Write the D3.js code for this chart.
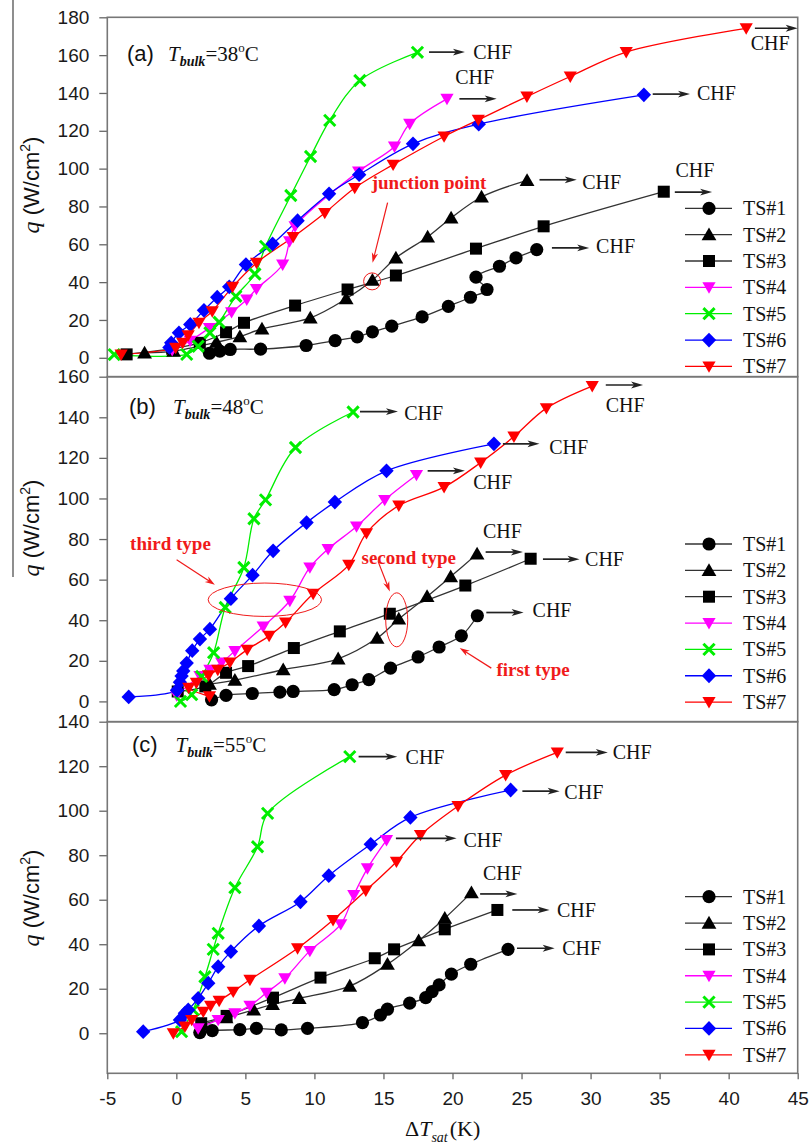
<!DOCTYPE html>
<html>
<head>
<meta charset="utf-8">
<script src="https://cdn.jsdelivr.net/npm/d3@7"></script>
<style>
  body { margin: 0; background: #fff; }
  svg { display: block; }
</style>
</head>
<body>
<svg id="chart" width="811" height="1148"></svg>
<script>
// ---------------- data ----------------
const seriesNames = ["TS#1", "TS#2", "TS#3", "TS#4", "TS#5", "TS#6", "TS#7"];
const xTicks = [-5, 0, 5, 10, 15, 20, 25, 30, 35, 40, 45];
const yTicks38 = [0, 20, 40, 60, 80, 100, 120, 140, 160, 180];
const yTicks48 = [0, 20, 40, 60, 80, 100, 120, 140, 160];
const yTicks55 = [0, 20, 40, 60, 80, 100, 120, 140];

// [ΔTsat (K), q (W/cm²)] — T_bulk = 38 °C
const ts1_38 = [[2.4,2.4],[3.15,3.5],[3.9,4.4],[6.1,4.6],[9.4,6.5],[11.5,9.1],[13.1,11.1],[14.2,13.7],[15.6,16.7],[17.8,21.6],[19.7,27.2],[21.3,32],[22.5,36.1],[21.7,42.6],[23.4,48.4],[24.6,52.8],[26.1,57.2]];
const ts2_38 = [[-2.3,2.6],[-0.2,3.5],[2.9,8.2],[4.6,11.2],[6.2,15.3],[9.7,21.1],[12.3,31.2],[14.2,41],[15.9,52.8],[18.2,63.9],[19.9,73.9],[22.1,85],[25.4,93.8]];
const ts3_38 = [[-3.6,1.8],[-0.3,4.8],[1.7,7.9],[3.6,13.5],[4.9,18.5],[8.6,27.6],[12.4,36.1],[15.9,43.5],[21.7,57.7],[26.6,69.5],[35.3,87.8]];
const ts4_38 = [[-0.3,4],[1.0,9],[2.4,15.8],[4.0,24.1],[5.1,30.8],[5.8,36.4],[7.7,49.3],[8.2,61.6],[8.6,69.5],[13.2,98.5],[15.8,111.7],[16.9,123.7],[19.6,136.9]];
const ts5_38 = [[-4.5,1.7],[0.75,1.8],[1.58,6.1],[2.43,13.2],[3.1,18.8],[4.31,32.5],[5.69,44.3],[6.46,58.9],[8.29,85.8],[9.72,106.4],[11.11,125.5],[13.29,146.6],[17.46,161.5]];
const ts6_38 = [[-0.5,5.5],[-0.37,7.9],[0.19,13.2],[1.01,17.6],[2.0,25.1],[2.96,32],[3.83,37.5],[5.04,49.3],[6.97,60.2],[8.78,72.5],[11.06,86.7],[13.24,96.8],[17.14,113.1],[21.9,123.5],[33.86,139]];
const ts7_38 = [[-4.0,1.7],[-0.05,5.3],[0.46,7.9],[0.86,11.9],[1.64,18.5],[2.6,24.6],[4.07,37.5],[5.81,50.2],[8.46,63.9],[10.75,76.6],[12.92,89.8],[15.7,102.1],[19.39,117],[21.87,125.8],[25.39,138.1],[28.53,148.7],[32.58,161.6],[41.27,174.2]];

// T_bulk = 48 °C
const ts1_48 = [[2.55,0.8],[3.6,3.0],[5.5,3.9],[7.5,4.6],[8.46,4.9],[11.43,5.8],[12.73,8.2],[13.94,10.7],[15.51,16.4],[17.51,21.9],[19.03,26.8],[20.64,32.3],[21.8,42.2]];
const ts2_48 = [[2.4,8.5],[4.24,10.5],[7.74,15.6],[11.72,21],[14.54,31.2],[16.11,40.6],[18.16,51.7],[19.87,61.5],[21.78,72.7]];
const ts3_48 = [[0.1,4.9],[2.1,7.4],[3.6,14.1],[5.2,17.4],[8.51,26.3],[11.84,34.5],[15.46,43.2],[20.93,57.1],[25.66,70.3]];
const ts4_48 = [[0.02,3.0],[1.71,12.5],[2.43,15.6],[3.28,19.2],[4.24,24.8],[6.29,36.9],[8.22,49.6],[9.67,66],[10.99,75.1],[13.05,86.2],[15.09,99.3],[17.39,111.6]];
const ts5_48 = [[0.3,0],[1.11,3.3],[1.83,12.3],[2.7,24],[3.54,46.3],[4.89,66],[5.62,90],[6.46,99.3],[8.63,125.1],[12.8,142.6]];
const ts6_48 = [[-3.45,2.2],[0.05,5.5],[0.26,9.5],[0.38,12.5],[0.5,15],[0.75,18.9],[1.15,25],[1.71,30.7],[2.43,35.6],[3.95,50.6],[5.52,62.2],[7.01,74.2],[9.43,88.1],[11.48,98.2],[15.22,113.6],[23.0,126.9]];
const ts7_48 = [[2.4,2.5],[0.9,6.7],[1.45,9.2],[2.33,12.9],[3.0,15.6],[3.88,19.2],[5.13,25.5],[6.72,32.3],[7.91,38.9],[9.91,53],[12.49,67.3],[13.77,82.9],[16.11,96.5],[19.39,105.6],[22.04,117.7],[24.45,130.5],[26.8,144.5],[30.12,155.4]];

// T_bulk = 55 °C
const ts1_55 = [[1.7,0.3],[2.6,1.2],[4.6,1.6],[5.8,2.2],[7.6,1.5],[9.5,2.2],[13.48,4.8],[14.78,8.2],[15.29,10.8],[16.9,13.5],[18.06,16],[18.52,18.7],[19.03,21.7],[19.92,26.6],[21.32,31],[24.02,37.7]];
const ts2_55 = [[1.9,4],[3.6,7],[5.6,10.5],[6.97,13],[8.9,15.7],[12.56,21.2],[15.29,31],[17.55,41.6],[19.44,51.7],[21.37,63.2]];
const ts3_55 = [[1.8,4.5],[3.64,7.8],[7.0,16],[10.44,25],[14.37,33.7],[15.77,37.7],[19.44,46.7],[23.25,55.4]];
const ts4_55 = [[1.58,2.2],[3.03,6],[4.24,9],[5.33,12.4],[6.53,18.2],[7.86,24.7],[9.67,37],[11.91,49],[12.85,62.1],[13.84,74.1],[15.22,86.8]];
const ts5_55 = [[0.38,0.7],[1.22,10.5],[2.07,25.4],[2.67,37.7],[3.03,44.9],[4.24,65.4],[5.88,83.8],[6.61,98.8],[12.56,124.3]];
const ts6_55 = [[-2.4,0.7],[0.26,6],[0.62,9],[0.86,10.5],[1.58,15.7],[2.31,22.5],[3.03,29.9],[3.95,36.7],[5.98,48.2],[8.99,59.1],[11.04,70.8],[14.08,84.9],[16.95,97],[24.21,109.3]];
const ts7_55 = [[-0.22,0],[0.62,3],[1.11,6],[1.95,9.7],[2.48,12.3],[3.1,14.6],[4.12,18.7],[5.33,24],[8.78,38.2],[11.35,50.9],[13.72,64.1],[15.94,77.1],[17.68,89.1],[20.4,102.1],[23.85,116],[27.59,126.2]];

// CHF arrows: [arrow start ΔT, arrow end ΔT, arrow q, label ΔT, label q]
const chf38 = [[18.3,20.9,161.6,21.5,161.7],[41.9,45,174.2,41.6,166.5],[20.5,23.2,136.9,20.2,148.7],[34.5,37.2,139.4,37.7,139.9],[26.3,29.0,94.1,29.4,92.9],[36.1,38.8,87.6,36.15,99.4],[27.2,29.9,58.1,30.4,58.9]];
const chf48 = [[13.3,16.05,142.8,16.5,142.2],[31.1,33.8,155.9,31.1,146.1],[23.65,26.3,126.9,27.0,125.4],[18.2,20.9,113.6,21.5,108.2],[22.4,25.1,73.6,22.2,84.2],[26.55,29.2,70.1,29.6,70.2],[22.45,25.15,43.8,25.8,44.8]];
const chf55 = [[13.2,16.0,124.3,16.6,124.3],[28.2,31.25,126.2,31.6,126.4],[25.06,27.76,108.8,28.1,108.5],[15.9,20.3,87.6,20.8,86.9],[22.0,24.7,62.6,22.2,71.9],[24.33,27.03,55.4,27.56,55.4],[24.67,27.4,38.2,27.95,38.2]];

// ---------------- styles & layout ----------------
const colors = ["#000", "#000", "#000", "#ff00ff", "#00ee00", "#0000ff", "#ff0000"];
const lineColors = ["#333", "#333", "#333", "#ff00ff", "#00ee00", "#0000ff", "#ff0000"];
const markers = ["circle", "triUp", "square", "triDown", "cross", "diamond", "triDown"];
const annRed = "#f01a1a";
const sans = "'Liberation Sans', Arial, sans-serif";
const serif = "'Liberation Serif', 'Times New Roman', serif";

const plotL = 107.3, plotR = 797.7;
const panels = [
  { top: 17.3, bottom: 376.7, domain: [-10, 180], ticks: yTicks38, series: [ts1_38, ts2_38, ts3_38, ts4_38, ts5_38, ts6_38, ts7_38],
    chf: chf38, tag: "(a)", temp: "38", tagX: 127, tempX: 168, tagY: 61, titleY: 185, legendY: 208.3 },
  { top: 376.7, bottom: 721.7, domain: [-10, 160], ticks: yTicks48, series: [ts1_48, ts2_48, ts3_48, ts4_48, ts5_48, ts6_48, ts7_48],
    chf: chf48, tag: "(b)", temp: "48", tagX: 129, tempX: 173, tagY: 414, titleY: 528, legendY: 544 },
  { top: 721.7, bottom: 1073.3, domain: [-18, 140], ticks: yTicks55, series: [ts1_55, ts2_55, ts3_55, ts4_55, ts5_55, ts6_55, ts7_55],
    chf: chf55, tag: "(c)", temp: "55", tagX: 132, tempX: 175.5, tagY: 752, titleY: 898, legendY: 896.7 }
];

const svg = d3.select("#chart");
const x = d3.scaleLinear().domain([-5, 45]).range([plotL, plotR]);
const plainNum = d => String(d);

function drawMarker(g, kind, color) {
  switch (kind) {
    case "circle":
      g.append("circle").attr("r", 6.6).attr("fill", color); break;
    case "square":
      g.append("rect").attr("x", -6).attr("y", -6).attr("width", 12).attr("height", 12).attr("fill", color); break;
    case "triUp":
      g.append("path").attr("d", "M0,-7.2L7.4,5.6L-7.4,5.6Z").attr("fill", color); break;
    case "triDown":
      g.append("path").attr("d", "M-6.6,-5L6.6,-5L0,6.4Z").attr("fill", color); break;
    case "diamond":
      g.append("path").attr("d", "M0,-7.4L7.2,0L0,7.4L-7.2,0Z").attr("fill", color); break;
    case "cross":
      g.append("path").attr("d", "M-5.6,-5.6L5.6,5.6M-5.6,5.6L5.6,-5.6")
        .attr("stroke", color).attr("stroke-width", 3).attr("fill", "none"); break;
  }
}

function drawArrow(g, x1, x2, yy) {
  g.append("line").attr("x1", x1).attr("x2", x2 - 6).attr("y1", yy).attr("y2", yy)
    .attr("stroke", "#222").attr("stroke-width", 1.7);
  g.append("path")
    .attr("d", `M${x2},${yy}L${x2 - 12},${yy - 3.4}L${x2 - 9},${yy}L${x2 - 12},${yy + 3.4}Z`)
    .attr("fill", "#222");
}

// stray frame line at the far left
svg.append("line").attr("x1", 13).attr("x2", 13).attr("y1", 0).attr("y2", 577)
  .attr("stroke", "#444").attr("stroke-width", 1.2);

panels.forEach((p, pi) => {
  const y = d3.scaleLinear().domain(p.domain).range([p.bottom, p.top]);
  const g = svg.append("g");

  // y axis
  const ya = g.append("g").attr("transform", `translate(${plotL},0)`)
    .call(d3.axisLeft(y).tickValues(p.ticks).tickSize(8).tickPadding(10).tickFormat(plainNum));
  ya.select(".domain").remove();
  ya.selectAll(".tick line").attr("stroke", "#666").attr("stroke-width", 1.3);
  ya.selectAll(".tick text").attr("font-family", sans).attr("font-size", 19).attr("fill", "#1a1a1a");

  // frame
  g.append("rect").attr("x", plotL).attr("y", p.top).attr("width", plotR - plotL).attr("height", p.bottom - p.top)
    .attr("fill", "none").attr("stroke", "#777").attr("stroke-width", 1.6);

  // axis title
  const yt = g.append("text").attr("transform", `translate(39,${p.titleY}) rotate(-90)`)
    .attr("text-anchor", "middle").attr("font-family", sans).attr("font-size", 22).attr("fill", "#111");
  yt.append("tspan").attr("font-family", serif).attr("font-style", "italic").attr("font-size", 24).text("q");
  yt.append("tspan").text(" (W/cm");
  yt.append("tspan").attr("font-size", 14).attr("dy", -9).text("2");
  yt.append("tspan").attr("dy", 9).text(")");

  // panel tag
  g.append("text").attr("x", p.tagX).attr("y", p.tagY).attr("font-family", sans).attr("font-size", 22)
    .attr("fill", "#111").text(p.tag);
  const tt = g.append("text").attr("x", p.tempX).attr("y", p.tagY).attr("font-family", serif)
    .attr("font-size", 21).attr("fill", "#111");
  tt.append("tspan").attr("font-style", "italic").text("T");
  tt.append("tspan").attr("font-style", "italic").attr("font-size", 14).attr("font-weight", "bold").attr("dy", 5).text("bulk");
  tt.append("tspan").attr("dy", -5).text("=" + p.temp);
  tt.append("tspan").attr("font-size", 13).attr("dy", -9).text("o");
  tt.append("tspan").attr("dy", 9).text("C");

  // series lines
  const line = d3.line().x(d => x(d[0])).y(d => y(d[1])).curve(d3.curveCatmullRom.alpha(0.5));
  p.series.forEach((s, si) => {
    g.append("path").datum(s).attr("d", line).attr("fill", "none")
      .attr("stroke", lineColors[si]).attr("stroke-width", 1.3);
  });
  // markers on top
  p.series.forEach((s, si) => {
    s.forEach(d => {
      const m = g.append("g").attr("transform", `translate(${x(d[0])},${y(d[1])})`);
      drawMarker(m, markers[si], colors[si]);
    });
  });

  // CHF arrows & labels
  p.chf.forEach(c => {
    drawArrow(g, x(c[0]), Math.min(x(c[1]), plotR), y(c[2]));
    g.append("text").attr("x", x(c[3])).attr("y", y(c[4])).attr("dy", "0.35em")
      .attr("font-family", serif).attr("font-size", 20).attr("fill", "#111").text("CHF");
  });

  // legend
  seriesNames.forEach((name, si) => {
    const ly = p.legendY + si * 26.35;
    g.append("line").attr("x1", 685).attr("x2", 732).attr("y1", ly).attr("y2", ly)
      .attr("stroke", lineColors[si]).attr("stroke-width", 1.3);
    const m = g.append("g").attr("transform", `translate(709,${ly})`);
    drawMarker(m, markers[si], colors[si]);
    g.append("text").attr("x", 743).attr("y", ly).attr("dy", "0.35em").attr("font-family", serif)
      .attr("font-size", 20).attr("fill", "#111").text(name);
  });

  // annotations
  const redText = (tx, ty, str) => g.append("text").attr("x", x(tx)).attr("y", y(ty)).attr("dy", "0.35em")
    .attr("font-family", serif).attr("font-weight", "bold").attr("font-size", 19).attr("fill", annRed).text(str);
  const redArrow = (x1, y1, x2, y2) => {
    const X1 = x(x1), Y1 = y(y1), X2 = x(x2), Y2 = y(y2);
    const ang = Math.atan2(Y2 - Y1, X2 - X1);
    const L = 10, w = 3.2;
    g.append("line").attr("x1", X1).attr("y1", Y1).attr("x2", X2 - Math.cos(ang) * 5).attr("y2", Y2 - Math.sin(ang) * 5)
      .attr("stroke", annRed).attr("stroke-width", 1.2);
    const bx = X2 - Math.cos(ang) * L, by = Y2 - Math.sin(ang) * L;
    g.append("path").attr("d",
      `M${X2},${Y2}L${bx - Math.sin(ang) * w},${by + Math.cos(ang) * w}L${X2 - Math.cos(ang) * 7},${Y2 - Math.sin(ang) * 7}L${bx + Math.sin(ang) * w},${by - Math.cos(ang) * w}Z`)
      .attr("fill", annRed);
  };
  const redEllipse = (cx, cy, rx, ry) => g.append("ellipse").attr("cx", x(cx)).attr("cy", y(cy))
    .attr("rx", rx).attr("ry", ry).attr("fill", "none").attr("stroke", annRed).attr("stroke-width", 1);

  if (pi === 0) {
    redText(14.15, 92.5, "junction point");
    redArrow(15.3, 82, 14.21, 50.3);
    redEllipse(14.18, 40.4, 8.5, 8.5);
  }
  if (pi === 1) {
    redText(-3.35, 78.1, "third type");
    redArrow(0.02, 69.8, 2.79, 57.5);
    redEllipse(6.41, 50.1, 56.7, 16.7);
    redText(13.41, 70.8, "second type");
    redArrow(14.61, 69, 15.46, 54.2);
    redEllipse(15.96, 40.2, 11, 27);
    redText(23.18, 15.6, "first type");
    redArrow(22.81, 16.4, 20.52, 26.3);
  }
});

// x axis along the bottom panel
const xa = svg.append("g").attr("transform", `translate(0,${panels[2].bottom})`)
  .call(d3.axisBottom(x).tickValues(xTicks).tickSize(6).tickPadding(12).tickFormat(plainNum));
xa.select(".domain").remove();
xa.selectAll(".tick line").attr("stroke", "#666").attr("stroke-width", 1.3);
xa.selectAll(".tick text").attr("font-family", sans).attr("font-size", 19).attr("fill", "#1a1a1a");

const xt = svg.append("text").attr("x", 405).attr("y", 1136).attr("font-family", serif)
  .attr("font-size", 22).attr("fill", "#111");
xt.append("tspan").text("Δ");
xt.append("tspan").attr("font-style", "italic").text("T");
xt.append("tspan").attr("font-style", "italic").attr("font-size", 14).attr("dy", 6).text("sat");
xt.append("tspan").attr("dy", -6).attr("dx", 2).text("(K)");
</script>
</body>
</html>
